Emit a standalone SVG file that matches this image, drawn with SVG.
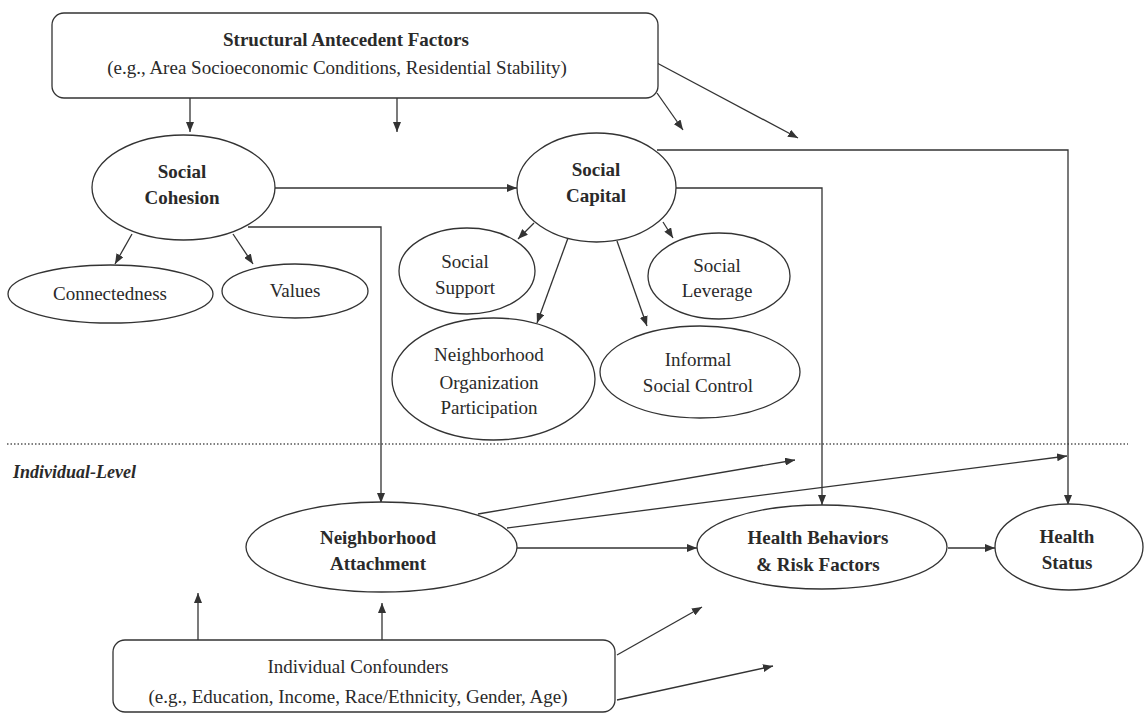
<svg xmlns="http://www.w3.org/2000/svg" width="1144" height="713" viewBox="0 0 1144 713">
<style>
.shape{fill:#fff;stroke:#333;stroke-width:1.3}
.ln{fill:none;stroke:#333;stroke-width:1.3}
.b{font-family:"Liberation Serif","Times New Roman",serif;font-weight:bold;font-size:19px;fill:#2a2a2a;text-anchor:middle}
.r{font-family:"Liberation Serif","Times New Roman",serif;font-size:19px;fill:#2a2a2a;text-anchor:middle}
</style>
<defs>
<marker id="ah" viewBox="0 0 10 8" refX="10" refY="4" markerWidth="10" markerHeight="8" markerUnits="userSpaceOnUse" orient="auto">
<path d="M0,0 L10,4 L0,8 Z" fill="#333"/>
</marker>
</defs>
<rect width="1144" height="713" fill="#fff"/>
<line x1="7" y1="444" x2="1128" y2="444" stroke="#555" stroke-width="1.3" stroke-dasharray="1.5 2"/>
<text x="13" y="478" style="font-family:'Liberation Serif','Times New Roman',serif;font-weight:bold;font-style:italic;font-size:18px;fill:#2a2a2a">Individual-Level</text>
<g id="connectors">
<line class="ln" x1="190" y1="98" x2="190" y2="132" marker-end="url(#ah)"/>
<line class="ln" x1="397" y1="98" x2="397" y2="132" marker-end="url(#ah)"/>
<line class="ln" x1="657" y1="93" x2="683" y2="130" marker-end="url(#ah)"/>
<line class="ln" x1="657" y1="63" x2="798" y2="138" marker-end="url(#ah)"/>
<line class="ln" x1="275" y1="188" x2="517" y2="188" marker-end="url(#ah)"/>
<polyline class="ln" points="248,227 381,227 381,503" marker-end="url(#ah)"/>
<line class="ln" x1="132" y1="234" x2="115" y2="264" marker-end="url(#ah)"/>
<line class="ln" x1="233" y1="234" x2="253" y2="264" marker-end="url(#ah)"/>
<polyline class="ln" points="657,150 1068,150 1068,505" marker-end="url(#ah)"/>
<polyline class="ln" points="676,188 822,188 822,505" marker-end="url(#ah)"/>
<line class="ln" x1="534" y1="223" x2="518" y2="239" marker-end="url(#ah)"/>
<line class="ln" x1="663" y1="222" x2="673" y2="238" marker-end="url(#ah)"/>
<line class="ln" x1="568" y1="238" x2="537" y2="323" marker-end="url(#ah)"/>
<line class="ln" x1="617" y1="241" x2="647" y2="326" marker-end="url(#ah)"/>
<line class="ln" x1="478" y1="514" x2="795" y2="460" marker-end="url(#ah)"/>
<line class="ln" x1="507" y1="528" x2="1067" y2="456" marker-end="url(#ah)"/>
<line class="ln" x1="517" y1="548" x2="697" y2="548" marker-end="url(#ah)"/>
<line class="ln" x1="948" y1="548" x2="995" y2="548" marker-end="url(#ah)"/>
<line class="ln" x1="198" y1="640" x2="198" y2="593" marker-end="url(#ah)"/>
<line class="ln" x1="382" y1="640" x2="382" y2="603" marker-end="url(#ah)"/>
<line class="ln" x1="617" y1="655" x2="702" y2="607" marker-end="url(#ah)"/>
<line class="ln" x1="617" y1="700" x2="773" y2="666" marker-end="url(#ah)"/>
</g>
<g id="structural">
<rect class="shape" x="52" y="13" width="606" height="85" rx="12"/>
<text class="b" x="346" y="46">Structural Antecedent Factors</text>
<text class="r" x="337" y="74">(e.g., Area Socioeconomic Conditions, Residential Stability)</text>
</g>
<g id="social-cohesion">
<ellipse class="shape" cx="183.5" cy="187.5" rx="91.5" ry="52.5"/>
<text class="b" x="182" y="178">Social</text>
<text class="b" x="182" y="204">Cohesion</text>
</g>
<g id="connectedness">
<ellipse class="shape" cx="110.5" cy="294" rx="102.5" ry="29"/>
<text class="r" x="110" y="300">Connectedness</text>
</g>
<g id="values">
<ellipse class="shape" cx="295" cy="291" rx="73" ry="27"/>
<text class="r" x="295" y="297">Values</text>
</g>
<g id="social-capital">
<ellipse class="shape" cx="596.5" cy="187.5" rx="79.5" ry="54.5"/>
<text class="b" x="596" y="176">Social</text>
<text class="b" x="596" y="202">Capital</text>
</g>
<g id="social-support">
<ellipse class="shape" cx="467" cy="271" rx="68" ry="43"/>
<text class="r" x="465" y="268">Social</text>
<text class="r" x="465" y="294">Support</text>
</g>
<g id="social-leverage">
<ellipse class="shape" cx="719" cy="276" rx="71" ry="43"/>
<text class="r" x="717" y="272">Social</text>
<text class="r" x="717" y="297">Leverage</text>
</g>
<g id="neighborhood-org">
<ellipse class="shape" cx="493.5" cy="379" rx="101.5" ry="61"/>
<text class="r" x="489" y="361">Neighborhood</text>
<text class="r" x="489" y="389">Organization</text>
<text class="r" x="489" y="414">Participation</text>
</g>
<g id="informal-control">
<ellipse class="shape" cx="700" cy="372" rx="100" ry="46"/>
<text class="r" x="698" y="366">Informal</text>
<text class="r" x="698" y="392">Social Control</text>
</g>
<g id="neighborhood-attachment">
<ellipse class="shape" cx="381.5" cy="547" rx="135.5" ry="45"/>
<text class="b" x="378" y="544">Neighborhood</text>
<text class="b" x="378" y="570">Attachment</text>
</g>
<g id="health-behaviors">
<ellipse class="shape" cx="822" cy="547" rx="125" ry="42"/>
<text class="b" x="818" y="544">Health Behaviors</text>
<text class="b" x="818" y="571">&amp; Risk Factors</text>
</g>
<g id="health-status">
<ellipse class="shape" cx="1069" cy="547" rx="74" ry="43"/>
<text class="b" x="1067" y="543">Health</text>
<text class="b" x="1067" y="569">Status</text>
</g>
<g id="confounders">
<rect class="shape" x="113" y="640" width="502" height="72" rx="12"/>
<text class="r" x="358" y="673">Individual Confounders</text>
<text class="r" x="358" y="703">(e.g., Education, Income, Race/Ethnicity, Gender, Age)</text>
</g>
</svg>
